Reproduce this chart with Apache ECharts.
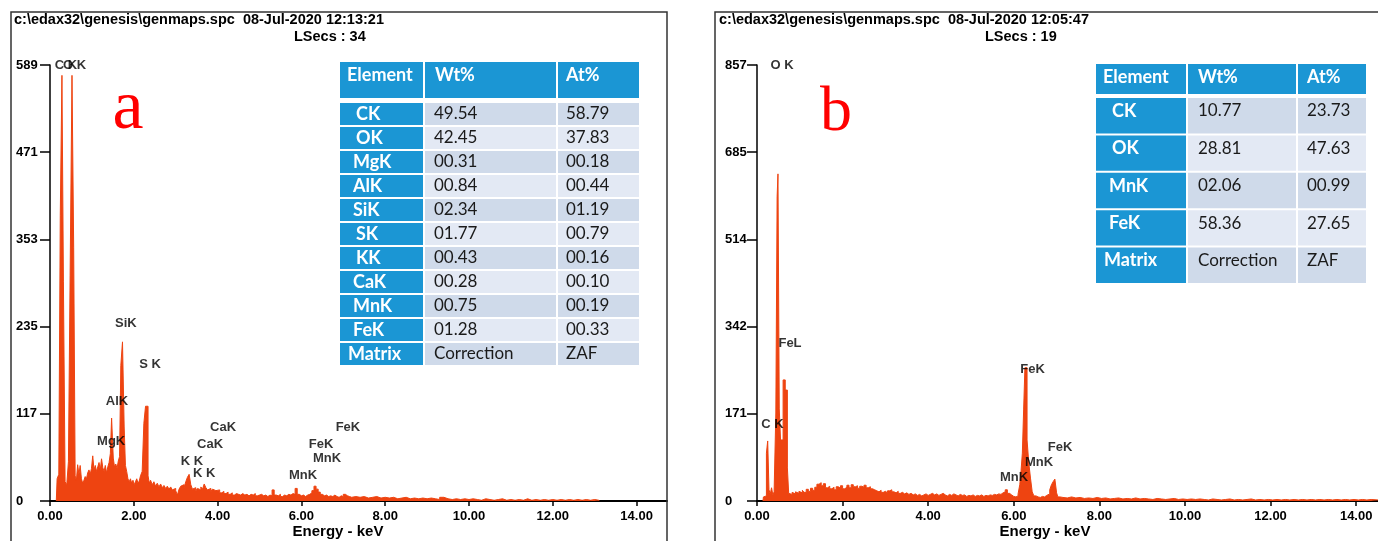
<!DOCTYPE html>
<html>
<head>
<meta charset="utf-8">
<script src="https://cdn.jsdelivr.net/npm/echarts@6/dist/echarts.min.js"></script>
<style>
html,body{margin:0;padding:0;background:#fff;}
#chart{width:1378px;height:541px;}
</style>
</head>
<body>
<div id="chart"></div>
<script>
// ---------------- DATA ----------------
const xTicks = [0, 2, 4, 6, 8, 10, 12, 14];
const countsMaxA = 589;
const countsMaxB = 857;
const yLabelsA = ['0', '117', '235', '353', '471', '589'];
const yLabelsB = ['0', '171', '342', '514', '685', '857'];

const headerA = ['c:\\edax32\\genesis\\genmaps.spc  08-Jul-2020 12:13:21', 'LSecs : 34'];
const headerB = ['c:\\edax32\\genesis\\genmaps.spc  08-Jul-2020 12:05:47', 'LSecs : 19'];
const xTitle = 'Energy - keV';
const panelLetters = ['a', 'b'];

// spectrum A: [energy keV (bin start), counts]
const spectrumA = [
[0.15,0],[0.17,30],[0.21,36],[0.245,386],[0.285,575],[0.32,296],[0.36,26],[0.40,22],[0.44,53],[0.48,305],
[0.525,575],[0.565,342],[0.60,34],[0.63,28],[0.66,49],[0.69,36],[0.72,48],[0.75,30],[0.78,24],[0.81,28],
[0.84,33],[0.87,30],[0.90,38],[0.93,42],[0.96,36],[0.99,44],[1.02,61],[1.05,42],[1.08,48],[1.11,40],
[1.14,46],[1.17,52],[1.20,42],[1.23,57],[1.26,45],[1.29,40],[1.32,48],[1.35,38],[1.38,46],[1.41,52],
[1.44,64],[1.47,112],[1.51,58],[1.54,46],[1.57,50],[1.60,44],[1.63,54],[1.66,60],[1.69,183],[1.73,215],
[1.77,100],[1.80,48],[1.83,40],[1.86,30],[1.89,26],[1.92,30],[1.95,24],[1.98,28],[2.01,22],[2.04,26],
[2.07,30],[2.10,24],[2.13,27],[2.16,34],[2.20,40],[2.24,105],[2.28,128],[2.34,34],[2.37,24],[2.40,28],
[2.44,22],[2.48,26],[2.52,20],[2.56,24],[2.60,19],[2.64,23],[2.68,18],[2.72,21],[2.76,17],[2.80,20],
[2.84,16],[2.88,19],[2.92,15],[2.96,17],[3.00,14],[3.04,8],[3.08,16],[3.12,20],[3.16,22],[3.20,18],
[3.24,26],[3.28,32],[3.32,36],[3.36,22],[3.40,16],[3.44,18],[3.48,14],[3.52,17],[3.56,15],[3.60,19],
[3.64,16],[3.68,23],[3.72,18],[3.76,15],[3.80,17],[3.84,13],[3.88,16],[3.92,14],[3.96,12],[4.00,15],
[4.05,11],[4.10,13],[4.15,10],[4.20,12],[4.25,9],[4.30,11],[4.35,8],[4.40,10],[4.45,9],[4.50,8],
[4.55,10],[4.60,8],[4.65,9],[4.70,7],[4.75,9],[4.80,8],[4.85,10],[4.90,7],[4.95,8],[5.00,9],
[5.05,7],[5.10,8],[5.15,6],[5.20,8],[5.25,7],[5.30,15],[5.35,8],[5.40,7],[5.45,9],[5.50,6],
[5.55,8],[5.60,7],[5.65,9],[5.70,8],[5.75,10],[5.80,9],[5.85,17],[5.90,9],[5.95,7],[6.00,8],
[6.05,6],[6.10,8],[6.15,9],[6.20,11],[6.25,14],[6.30,20],[6.35,16],[6.40,12],[6.45,9],[6.50,7],
[6.55,8],[6.60,6],[6.65,7],[6.70,6],[6.75,8],[6.80,6],[6.85,5],[6.90,7],[6.95,6],[7.00,9],
[7.05,7],[7.10,6],[7.15,5],[7.20,6],[7.30,5],[7.40,6],[7.50,4],[7.60,5],[7.70,6],[7.80,4],
[7.90,5],[8.00,4],[8.10,5],[8.20,3],[8.30,4],[8.40,5],[8.50,3],[8.60,4],[8.70,3],[8.80,4],
[8.90,3],[9.00,4],[9.10,3],[9.20,2],[9.30,5],[9.40,3],[9.50,2],[9.60,3],[9.70,2],[9.80,3],
[9.90,2],[10.00,3],[10.10,2],[10.20,1],[10.30,3],[10.40,2],[10.50,1],[10.60,2],[10.70,3],[10.80,1],
[10.90,2],[11.00,1],[11.10,2],[11.20,1],[11.30,3],[11.40,1],[11.50,2],[11.60,1],[11.70,2],[11.80,1],
[11.90,2],[12.00,1],[12.10,2],[12.20,1],[12.30,2],[12.40,1],[12.50,2],[12.60,1],[12.70,2],[12.80,1],
[12.90,2],[13.00,1],[13.10,0]
];

// spectrum B: [energy keV (bin start), counts]
const spectrumB = [
[0.14,0],[0.15,8],[0.19,10],[0.22,94],[0.25,118],[0.28,22],[0.31,14],[0.34,26],[0.37,12],[0.40,18],
[0.44,173],[0.47,598],[0.49,643],[0.52,181],[0.55,120],[0.61,238],[0.66,218],[0.71,65],[0.74,15],[0.78,13],
[0.82,17],[0.86,14],[0.90,18],[0.94,15],[0.98,19],[1.02,16],[1.06,21],[1.10,17],[1.15,23],[1.20,19],
[1.25,25],[1.30,21],[1.35,27],[1.40,33],[1.45,36],[1.50,30],[1.55,34],[1.60,26],[1.65,29],[1.70,24],
[1.75,27],[1.80,22],[1.85,28],[1.90,25],[1.95,30],[2.00,24],[2.05,27],[2.10,31],[2.15,26],[2.20,32],
[2.25,28],[2.30,30],[2.35,25],[2.40,29],[2.45,27],[2.50,31],[2.55,26],[2.60,28],[2.65,24],[2.70,22],
[2.75,20],[2.80,18],[2.85,21],[2.90,17],[2.95,19],[3.00,16],[3.05,20],[3.10,22],[3.15,18],[3.20,16],
[3.25,19],[3.30,15],[3.35,17],[3.40,14],[3.45,16],[3.50,13],[3.55,15],[3.60,12],[3.65,14],[3.70,11],
[3.75,13],[3.80,10],[3.85,12],[3.90,14],[3.95,11],[4.00,13],[4.05,15],[4.10,12],[4.15,14],[4.20,11],
[4.25,13],[4.30,15],[4.35,12],[4.40,10],[4.45,13],[4.50,11],[4.55,14],[4.60,12],[4.65,10],[4.70,13],
[4.75,11],[4.80,12],[4.85,9],[4.90,11],[4.95,10],[5.00,12],[5.05,9],[5.10,11],[5.15,10],[5.20,12],
[5.25,9],[5.30,11],[5.35,10],[5.40,12],[5.45,11],[5.50,13],[5.55,12],[5.60,14],[5.65,13],[5.70,16],
[5.75,18],[5.80,22],[5.85,15],[5.90,12],[5.95,9],[6.00,8],[6.05,10],[6.10,14],[6.14,32],[6.17,60],
[6.20,94],[6.23,179],[6.26,262],[6.31,120],[6.35,75],[6.39,45],[6.43,18],[6.47,10],[6.52,8],[6.57,7],
[6.62,9],[6.67,8],[6.72,11],[6.77,9],[6.81,14],[6.84,22],[6.88,32],[6.92,38],[6.96,43],[7.00,16],
[7.03,8],[7.08,7],[7.15,6],[7.25,8],[7.35,6],[7.45,7],[7.55,5],[7.65,6],[7.75,5],[7.85,7],
[7.95,5],[8.05,6],[8.15,4],[8.25,5],[8.35,6],[8.45,4],[8.55,5],[8.65,4],[8.75,6],[8.85,4],
[8.95,5],[9.05,4],[9.15,3],[9.25,5],[9.35,4],[9.45,3],[9.55,4],[9.65,5],[9.75,3],[9.85,4],
[9.95,3],[10.05,4],[10.15,3],[10.25,4],[10.35,3],[10.45,2],[10.55,4],[10.65,3],[10.75,2],[10.85,3],
[10.95,4],[11.05,2],[11.15,3],[11.25,2],[11.35,3],[11.45,4],[11.55,2],[11.65,3],[11.75,2],[11.85,3],
[11.95,2],[12.05,3],[12.15,2],[12.25,3],[12.35,2],[12.45,3],[12.55,2],[12.65,3],[12.75,2],[12.85,3],
[12.95,2],[13.05,3],[13.15,2],[13.25,3],[13.35,2],[13.45,3],[13.55,2],[13.65,3],[13.75,2],[13.85,3],
[13.95,2],[14.05,3],[14.15,2],[14.25,3],[14.35,2],[14.51,2]
];

// peak labels: [text, energy keV, counts] (label centre in data units)
const peakLabelsA = [
['C K',0.38,589],['O K',0.585,589],['SiK',1.81,240],['S K',2.39,184],['AlK',1.60,134],['MgK',1.46,81],
['CaK',4.13,99],['CaK',3.82,76],['K K',3.39,54],['K K',3.68,37],['MnK',6.04,34],['FeK',6.47,77],
['MnK',6.61,57],['FeK',7.11,99]
];
const peakLabelsB = [
['O K',0.584,857],['FeL',0.771,310],['C K',0.362,151],['FeK',6.437,259],['FeK',7.08,106],
['MnK',6.589,75],['MnK',6.005,47]
];

// tables
const tableHeader = ['Element', 'Wt%', 'At%'];
const tableAElements = ['CK','OK','MgK','AlK','SiK','SK','KK','CaK','MnK','FeK','Matrix'];
const tableAWt = ['49.54','42.45','00.31','00.84','02.34','01.77','00.43','00.28','00.75','01.28','Correction'];
const tableAAt = ['58.79','37.83','00.18','00.44','01.19','00.79','00.16','00.10','00.19','00.33','ZAF'];
const tableBElements = ['CK','OK','MnK','FeK','Matrix'];
const tableBWt = ['10.77','28.81','02.06','58.36','Correction'];
const tableBAt = ['23.73','47.63','00.99','27.65','ZAF'];

// ---------------- STYLE / LAYOUT ----------------
const SPEC_COLOR = '#ee4411';
const AXIS_FONT = '"Liberation Sans", Arial, sans-serif';
const TABLE_FONT = 'Lato, "Open Sans", sans-serif';
const BLUE = '#1b96d4';
const CELL_DARK = '#cfdaea';
const CELL_LIGHT = '#e3e9f4';

function mkX(gi, max) {
  return {
    type: 'value', gridIndex: gi, min: 0, max: max,
    axisLine: { show: true, onZero: false, lineStyle: { color: '#000', width: 2 } },
    axisTick: { show: true, length: 5, customValues: xTicks, lineStyle: { color: '#000', width: 1.5 } },
    axisLabel: { customValues: xTicks, formatter: v => Number(v).toFixed(2), fontSize: 13, fontWeight: 'bold',
      color: '#000', fontFamily: AXIS_FONT, margin: 9 },
    splitLine: { show: false }
  };
}
function mkY(gi, max, labels, margin) {
  const ticks = labels.map((_, i) => max * i / (labels.length - 1));
  return {
    type: 'value', gridIndex: gi, min: 0, max: max,
    axisLine: { show: true, lineStyle: { color: '#000', width: 1.5 } },
    axisTick: { show: true, length: 10, customValues: ticks, lineStyle: { color: '#000', width: 1.5 } },
    axisLabel: { customValues: ticks, formatter: v => labels[Math.round(v / max * (labels.length - 1))],
      align: 'left', margin: margin, fontSize: 13, fontWeight: 'bold', color: '#000', fontFamily: AXIS_FONT },
    splitLine: { show: false }
  };
}
function specSeries(data, gi) {
  return {
    type: 'line', xAxisIndex: gi, yAxisIndex: gi, data: data, step: 'end', symbol: 'none',
    lineStyle: { color: SPEC_COLOR, width: 1 }, areaStyle: { color: SPEC_COLOR, opacity: 1 },
    silent: true, z: 2
  };
}
function labelSeries(list, gi) {
  return {
    type: 'scatter', xAxisIndex: gi, yAxisIndex: gi, symbolSize: 0, silent: true, z: 5,
    data: list.map(d => ({ name: d[0], value: [d[1], d[2]] })),
    label: { show: true, position: 'inside', formatter: p => p.name, fontSize: 13, fontWeight: 'bold',
      color: '#000', fontFamily: AXIS_FONT }
  };
}
function txt(text, x, y, font, fill, align, valign) {
  return { type: 'text', silent: true, z: 20,
    style: { text: text, x: x, y: y, font: font, fill: fill || '#000',
      align: align || 'left', textAlign: align || 'left',
      verticalAlign: valign || 'middle', textVerticalAlign: valign || 'middle' } };
}
function rect(x, y, w, h, fill) {
  return { type: 'rect', silent: true, z: 15, shape: { x: x, y: y, width: w, height: h }, style: { fill: fill } };
}
function buildTable(L, els, wt, at) {
  const g = [];
  const cols = [L.x0, L.x1, L.x2, L.x3];
  for (let c = 0; c < 3; c++) {
    g.push(rect(cols[c] + 1, L.headTop, cols[c + 1] - cols[c] - 2, L.headBot - L.headTop, BLUE));
    g.push(txt(tableHeader[c], cols[c] + L.headPad[c], L.headTop + L.headDy,
      'bold 18px ' + TABLE_FONT, '#fff'));
  }
  for (let r = 0; r < els.length; r++) {
    const top = L.rowTop + r * L.rowH;
    const light = r % 2 === 1;
    g.push(rect(cols[0] + 1, top + 1, cols[1] - cols[0] - 2, L.rowH - 2, BLUE));
    g.push(rect(cols[1] + 1, top + 1, cols[2] - cols[1] - 2, L.rowH - 2, light ? CELL_LIGHT : CELL_DARK));
    g.push(rect(cols[2] + 1, top + 1, cols[3] - cols[2] - 2, L.rowH - 2, light ? CELL_LIGHT : CELL_DARK));
    const name = els[r];
    const ind = name === 'Matrix' ? 9 : (name.length === 2 ? 17 : 14);
    const ty = top + L.rowDy;
    g.push(txt(name, cols[0] + ind, ty, 'bold 18px ' + TABLE_FONT, '#fff'));
    g.push(txt(wt[r], cols[1] + L.dataPad[0], ty, '17px ' + TABLE_FONT, '#1a1a1a'));
    g.push(txt(at[r], cols[2] + L.dataPad[1], ty, '17px ' + TABLE_FONT, '#1a1a1a'));
  }
  return g;
}

const graphics = [
  { type: 'rect', silent: true, z: 1, shape: { x: 11, y: 12, width: 656, height: 560 },
    style: { fill: 'none', stroke: '#333', lineWidth: 1.5 } },
  { type: 'rect', silent: true, z: 1, shape: { x: 715, y: 12, width: 700, height: 560 },
    style: { fill: 'none', stroke: '#333', lineWidth: 1.5 } },
  txt(headerA[0], 14, 20, 'bold 14.5px ' + AXIS_FONT, '#000'),
  txt(headerA[1], 294, 37, 'bold 14.5px ' + AXIS_FONT, '#000'),
  txt(headerB[0], 719, 20, 'bold 14.5px ' + AXIS_FONT, '#000'),
  txt(headerB[1], 985, 37, 'bold 14.5px ' + AXIS_FONT, '#000'),
  txt(xTitle, 338, 532, 'bold 15px ' + AXIS_FONT, '#000', 'center'),
  txt(xTitle, 1045, 532, 'bold 15px ' + AXIS_FONT, '#000', 'center'),
  txt(panelLetters[0], 128, 110, '70px "Liberation Serif", "DejaVu Serif", serif', '#ff0000', 'center'),
  txt(panelLetters[1], 836, 113, '64px "Liberation Serif", "DejaVu Serif", serif', '#ff0000', 'center')
].concat(
  buildTable({ x0: 339, x1: 424, x2: 557, x3: 640, headTop: 62, headBot: 98, headDy: 13,
    headPad: [8, 11, 9], rowTop: 102, rowH: 24, rowDy: 12, dataPad: [10, 9] },
    tableAElements, tableAWt, tableAAt),
  buildTable({ x0: 1095, x1: 1187, x2: 1297, x3: 1367, headTop: 64, headBot: 94, headDy: 13,
    headPad: [8, 11, 10], rowTop: 97, rowH: 37.4, rowDy: 14, dataPad: [11, 10] },
    tableBElements, tableBWt, tableBAt)
);

const option = {
  animation: false,
  backgroundColor: '#fff',
  grid: [
    { left: 50, top: 65, width: 617, height: 436 },
    { left: 757, top: 65, width: 621, height: 436 }
  ],
  xAxis: [mkX(0, 14.725), mkX(1, 14.51)],
  yAxis: [mkY(0, countsMaxA, yLabelsA, 34), mkY(1, countsMaxB, yLabelsB, 32)],
  series: [
    specSeries(spectrumA, 0), specSeries(spectrumB, 1),
    labelSeries(peakLabelsA, 0), labelSeries(peakLabelsB, 1)
  ],
  graphic: graphics
};

const chart = echarts.init(document.getElementById('chart'), null, { renderer: 'canvas' });
chart.setOption(option);
</script>
</body>
</html>
